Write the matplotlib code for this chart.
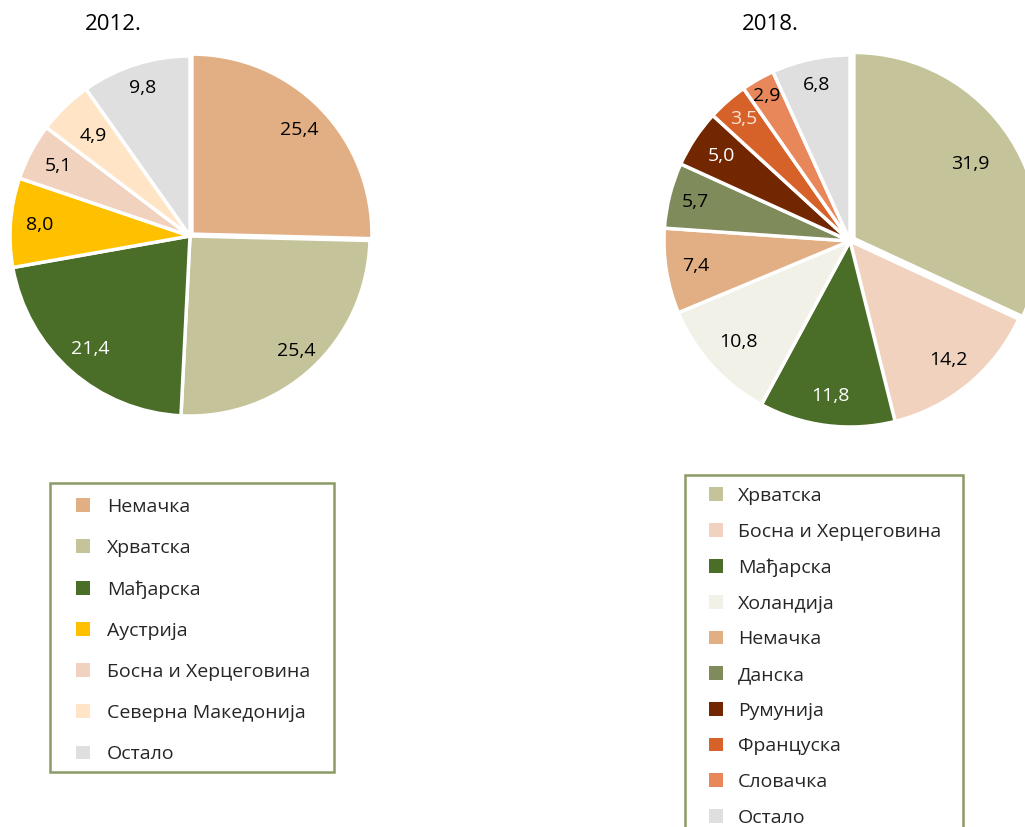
import matplotlib
matplotlib.use("Agg")
import matplotlib.pyplot as plt
from matplotlib.patches import Patch, Rectangle
import numpy as np

plt.rcParams['font.family'] = ['Open Sans', 'DejaVu Sans']

W, H = 1025, 827

# 2012 data
labels_2012 = ["Немачка", "Хрватска", "Мађарска", "Аустрија", "Босна и Херцеговина",
               "Северна Македонија", "Остало"]
values_2012 = [25.4, 25.4, 21.4, 8.0, 5.1, 4.9, 9.8]
colors_2012 = ["#E2AE84", "#C4C39A", "#4A6E28", "#FFC000", "#F0D2BE", "#FFE5C6", "#DFDFDF"]
txtcol_2012 = ["black", "black", "white", "black", "black", "black", "black"]

# 2018 data
labels_2018 = ["Хрватска", "Босна и Херцеговина", "Мађарска", "Холандија", "Немачка",
               "Данска", "Румунија", "Француска", "Словачка", "Остало"]
values_2018 = [31.9, 14.2, 11.8, 10.8, 7.4, 5.7, 5.0, 3.5, 2.9, 6.8]
colors_2018 = ["#C4C39A", "#F0D2BE", "#4A6E28", "#F1F1E8", "#E2AE84", "#7F8B5A",
               "#722700", "#D6622A", "#E8885A", "#DFDFDF"]
txtcol_2018 = ["black", "black", "white", "black", "black", "black", "white",
               "#FBE3D3", "black", "black"]

FS = 14

fig = plt.figure(figsize=(W / 100, H / 100), dpi=100)


def px_axes(cx, cy, r):
    return fig.add_axes([(cx - r) / W, (H - cy - r) / H, 2 * r / W, 2 * r / H])


def draw_pie(ax, vals, cols, tcols, explode, dists):
    wedges, _ = ax.pie(vals, colors=cols, startangle=90, counterclock=False,
                       explode=explode, radius=1.0,
                       wedgeprops=dict(edgecolor="white", linewidth=2.5))
    for w, v, tc, d in zip(wedges, vals, tcols, dists):
        ang = np.deg2rad((w.theta1 + w.theta2) / 2)
        cx, cy = w.center
        ax.text(cx + d * np.cos(ang), cy + d * np.sin(ang),
                f"{v:.1f}".replace(".", ","), ha="center", va="center",
                fontsize=FS, color=tc)
    ax.set_xlim(-1, 1)
    ax.set_ylim(-1, 1)
    ax.set_aspect("equal")
    ax.axis("off")
    for w in wedges:
        w.set_clip_on(False)


ax1 = px_axes(190, 236, 180)
draw_pie(ax1, values_2012, colors_2012, txtcol_2012,
         [0.015, 0, 0, 0, 0, 0, 0], [0.83, 0.87, 0.84, 0.84, 0.83, 0.77, 0.86])
ax2 = px_axes(850, 241, 186)
draw_pie(ax2, values_2018, colors_2018, txtcol_2018,
         [0.025] + [0] * 9, [0.74, 0.83, 0.84, 0.81, 0.84, 0.86, 0.83, 0.87, 0.9, 0.86])

fig.text(113 / W, 1 - 25 / H, "2012.", ha="center", va="center", fontsize=16)
fig.text(770 / W, 1 - 25 / H, "2018.", ha="center", va="center", fontsize=16)


def make_legend(labels, cols, hx, top, spacing, textpad, frame):
    handles = [Patch(facecolor=c, edgecolor="none") for c in cols]
    leg = fig.legend(handles, labels, loc="upper left",
                     bbox_to_anchor=(hx / W, 1 - top / H),
                     bbox_transform=fig.transFigure,
                     fontsize=FS, frameon=False,
                     handlelength=0.72, handleheight=0.72, handletextpad=textpad,
                     labelspacing=spacing, borderpad=0, borderaxespad=0)
    for t in leg.get_texts():
        t.set_color("#262626")
    x0, y0, x1, y1 = frame
    fig.patches.append(Rectangle((x0 / W, 1 - y1 / H), (x1 - x0) / W, (y1 - y0) / H,
                                 transform=fig.transFigure, fill=False,
                                 edgecolor="#8C9A66", linewidth=1.8, zorder=0))
    return leg


make_legend(labels_2012, colors_2012, 76, 498, 1.19, 0.87, (50, 483, 334, 772))
make_legend(labels_2018, colors_2018, 709, 487, 0.91, 0.77, (685, 475, 963, 840))

fig.savefig("out.png", dpi=100, facecolor="white")
